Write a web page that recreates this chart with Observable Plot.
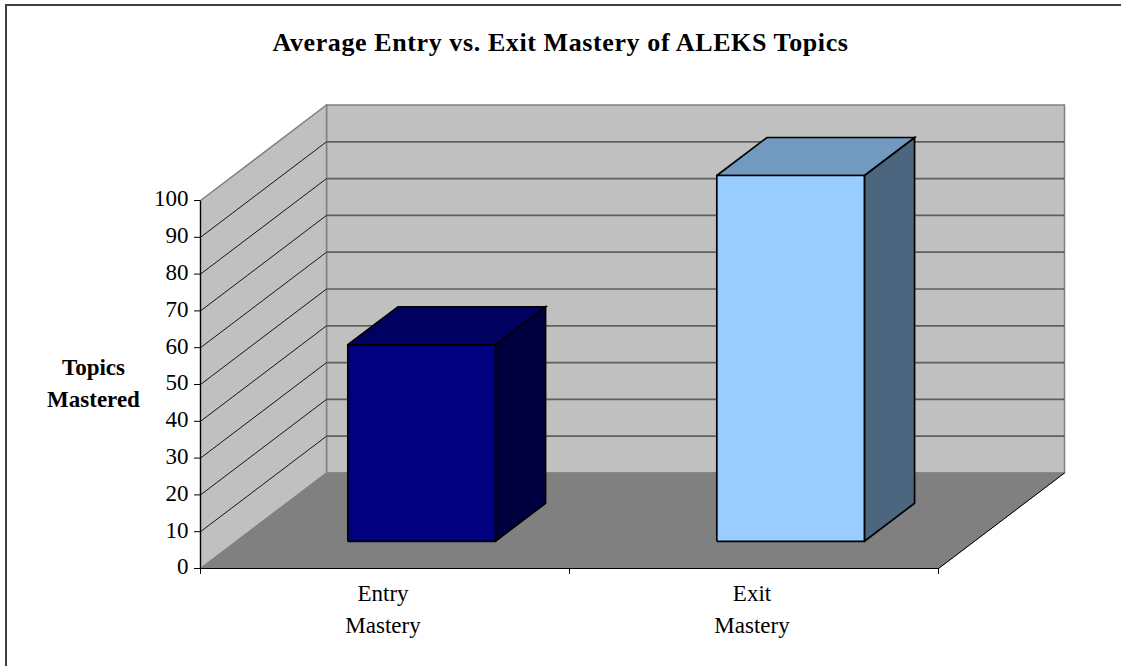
<!DOCTYPE html>
<html>
<head>
<meta charset="utf-8">
<script src="https://cdn.jsdelivr.net/npm/d3@7"></script>
<script src="https://cdn.jsdelivr.net/npm/@observablehq/plot@0.6"></script>
<style>
  html, body { margin: 0; padding: 0; background: #fff; width: 1121px; height: 666px; overflow: hidden; }
  #frame { position: absolute; left: 5px; top: 4px; right: 0; bottom: 0; border-left: 2px solid #404040; border-top: 2px solid #404040; }
  #title { position: absolute; left: 0; width: 1121px; top: 29px; margin: 0; text-align: center;
           font: bold 26px/27px "Liberation Serif", serif; letter-spacing: 0.6px; color: #000; }
  #chart { position: absolute; left: 0; top: 0; }
  g[aria-label="category labels"] text { letter-spacing: 1.1px; }
  g[aria-label="value title"] text { letter-spacing: 1.4px; }
</style>
</head>
<body>
<div id="frame"></div>
<h1 id="title"></h1>
<div id="chart"></div>
<script>
const chartTitle = "Average Entry vs. Exit Mastery of ALEKS Topics";
const valueTitle = "Topics\nMastered";
const categories = ["Entry\nMastery", "Exit\nMastery"];
const topicsMastered = [53.4, 99.4];
const yTicks = [0, 10, 20, 30, 40, 50, 60, 70, 80, 90, 100];
const frontColors = ["#000080", "#99ccff"];
const topColors = ["#000060", "#7299bf"];
const sideColors = ["#000040", "#4d6680"];

// Oblique projection of the 3-D chart box into the x/y scale units.
const depthX = 0.3415;   // horizontal shift of the back wall, in categories
const depthY = 25.95;    // vertical shift of the back wall, in topics
const P = (c, v, d = 0) => ({x: c + d * depthX, y: v + d * depthY});
const n = categories.length;

// Bar geometry, as fractions of a category slot and of the box depth
const barHalfWidth = 0.2;
const depthStart = 0.285, depthEnd = 0.683;

const poly = (pts, options) => Plot.line([...pts, pts[0]], {
  x: "x", y: "y", strokeLinecap: "butt", strokeLinejoin: "miter", strokeMiterlimit: 4, ...options
});
const seg = (a, b, options) => Plot.link([{a, b}], {
  x1: (o) => o.a.x, y1: (o) => o.a.y, x2: (o) => o.b.x, y2: (o) => o.b.y, ...options
});

const gridValues = yTicks.slice(1, -1);
const marks = [
  // back wall, side wall, floor
  poly([P(0, 0, 1), P(n, 0, 1), P(n, 100, 1), P(0, 100, 1)], {fill: "#c0c0c0", stroke: "#808080", strokeWidth: 1.5}),
  poly([P(0, 0, 0), P(0, 0, 1), P(0, 100, 1), P(0, 100, 0)], {fill: "#c0c0c0", stroke: "#808080", strokeWidth: 1.5}),
  Plot.link(gridValues, {
    x1: (v) => P(0, v, 1).x, y1: (v) => P(0, v, 1).y,
    x2: (v) => P(n, v, 1).x, y2: (v) => P(n, v, 1).y,
    stroke: "#5f5f5f", strokeWidth: 1.7
  }),
  Plot.link(gridValues, {
    x1: (v) => P(0, v, 0).x, y1: (v) => P(0, v, 0).y,
    x2: (v) => P(0, v, 1).x, y2: (v) => P(0, v, 1).y,
    stroke: "#000", strokeWidth: 0.9
  }),
  poly([P(0, 0, 0), P(n, 0, 0), P(n, 0, 1), P(0, 0, 1)], {fill: "#808080", stroke: "#808080", strokeWidth: 1}),
  seg(P(n, 0, 0), P(n, 0, 1), {stroke: "#000", strokeWidth: 1}),
  seg(P(0, 0, 0), P(n, 0, 0), {stroke: "#000", strokeWidth: 1.2}),
  seg(P(0, 0, 0), P(0, 100, 0), {stroke: "#000", strokeWidth: 1.2}),
];

// bars
topicsMastered.forEach((v, i) => {
  const l = i + 0.5 - barHalfWidth, r = i + 0.5 + barHalfWidth;
  const style = {stroke: "#000", strokeWidth: 1.7, dx: 0.7};
  marks.push(
    poly([P(r, 0, depthStart), P(r, 0, depthEnd), P(r, v, depthEnd), P(r, v, depthStart)], {fill: sideColors[i], ...style}),
    poly([P(l, v, depthStart), P(r, v, depthStart), P(r, v, depthEnd), P(l, v, depthEnd)], {fill: topColors[i], ...style}),
    poly([P(l, 0, depthStart), P(r, 0, depthStart), P(r, v, depthStart), P(l, v, depthStart)], {fill: frontColors[i], ...style})
  );
});

const serif = "Liberation Serif";
marks.push(
  Plot.axisY({ticks: yTicks, tickSize: 6, tickFormat: () => "", stroke: "#000", label: null}),
  Plot.axisY({ticks: yTicks, tickSize: 0, tickPadding: 12, fontSize: 23, fontFamily: serif, stroke: "none", color: "#000", label: null, dy: -1.5}),
  Plot.axisX({ticks: d3.range(n + 1), tickSize: 6, tickFormat: () => "", stroke: "#000", label: null}),
  Plot.text(categories, {
    x: (d, i) => i + 0.5, y: 0, text: (d) => d, dx: -2, dy: 10,
    lineHeight: 1.39, lineAnchor: "top",
    fontSize: 23, fontFamily: serif, fill: "#000", ariaLabel: "category labels"
  }),
  Plot.text([valueTitle], {
    x: -0.29, y: 50, text: (d) => d, lineHeight: 1.39, dy: -4,
    fontSize: 23, fontWeight: "bold", fontFamily: serif, fill: "#000", ariaLabel: "value title"
  })
);

document.getElementById("title").textContent = chartTitle;
const plot = Plot.plot({
  width: 1121, height: 666,
  marginLeft: 200, marginRight: 183, marginTop: 200, marginBottom: 98,
  x: {domain: [0, n], axis: null},
  y: {domain: [0, 100], axis: null},
  style: {background: "transparent", overflow: "visible"},
  marks
});
document.getElementById("chart").appendChild(plot);
</script>
</body>
</html>
